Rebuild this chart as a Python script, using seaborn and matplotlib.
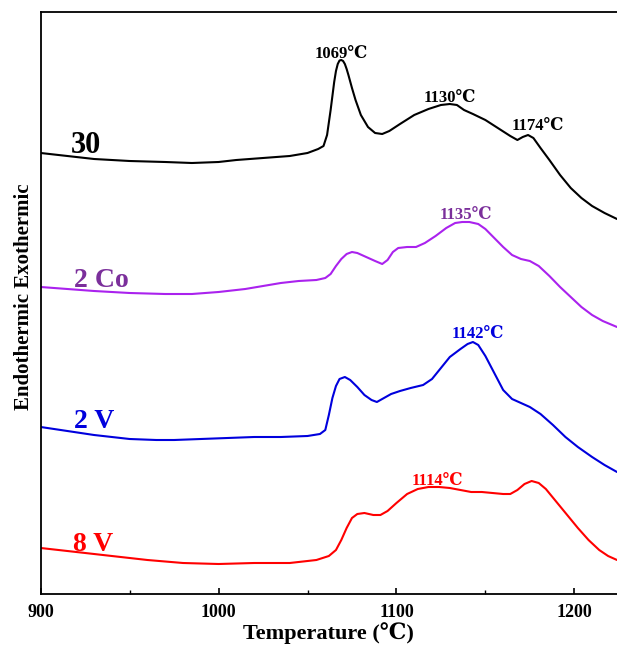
import numpy as np
import pandas as pd
import matplotlib
matplotlib.use("Agg")
import matplotlib.pyplot as plt
import seaborn as sns
from matplotlib.ticker import MultipleLocator

# ---- data (temperature in degC, signal read as pixel row of the curve) ----
t_30 = [900, 915, 930, 950, 970, 985, 1000, 1010, 1025, 1040, 1050, 1056, 1059, 1061, 1063, 1065,
        1066, 1067, 1068, 1069, 1070, 1071, 1072, 1073, 1075, 1077, 1080, 1084, 1088, 1092, 1096,
        1102, 1110, 1118, 1125, 1130, 1134, 1138, 1143, 1150, 1157, 1164, 1168, 1171, 1174, 1177,
        1181, 1186, 1192, 1198, 1204, 1210, 1217, 1224]
y_30_px = [153, 156, 159, 161, 162, 163, 162, 160, 158, 156, 153, 149, 146, 135, 110, 82,
           71, 64, 60.5, 60, 61, 64, 69, 75, 88, 100, 115, 127, 133, 134, 131,
           124, 115, 109, 105, 104, 105, 110, 114, 120, 128, 136, 140, 137, 135, 138,
           148, 160, 175, 188, 198, 206, 213, 219]

t_co = [900, 915, 930, 950, 970, 985, 1000, 1015, 1025, 1035, 1045, 1055, 1060, 1063, 1066, 1069,
        1072, 1075, 1078, 1083, 1088, 1092, 1095, 1098, 1101, 1106, 1111, 1116, 1122, 1128, 1133,
        1137, 1141, 1146, 1150, 1155, 1160, 1165, 1170, 1175, 1180, 1186, 1192, 1198, 1204, 1210,
        1216, 1224]
y_co_px = [287, 289, 291, 293, 294, 294, 292, 289, 286, 283, 281, 280, 278, 274, 266, 259,
           254, 252, 253, 257, 261, 264, 260, 252, 248, 247, 247, 243, 236, 228, 223,
           222, 222, 224, 229, 238, 247, 255, 259, 261, 266, 276, 287, 297, 307, 315,
           321, 327]

t_2v = [900, 915, 930, 950, 965, 975, 990, 1005, 1020, 1035, 1050, 1057, 1060, 1062, 1064, 1066,
        1068, 1071, 1074, 1078, 1082, 1086, 1089, 1093, 1097, 1102, 1108, 1115, 1120, 1125, 1130,
        1136, 1140, 1143, 1146, 1150, 1155, 1160, 1165, 1170, 1175, 1181, 1188, 1195, 1202, 1210,
        1217, 1224]
y_2v_px = [427, 431, 435, 439, 440, 440, 439, 438, 437, 437, 436, 434, 430, 415, 398, 386,
           379, 377, 380, 387, 395, 400, 402, 398, 394, 391, 388, 385, 379, 368, 357,
           349, 344, 342, 345, 356, 373, 390, 399, 403, 407, 414, 425, 437, 447, 457,
           465, 472]

t_8v = [900, 920, 940, 960, 980, 1000, 1020, 1040, 1055, 1062, 1066, 1069, 1072, 1075, 1078, 1082,
        1087, 1091, 1095, 1100, 1106, 1112, 1118, 1124, 1130, 1136, 1142, 1148, 1154, 1160, 1164,
        1168, 1172, 1176, 1180, 1184, 1190, 1196, 1202, 1208, 1214, 1219, 1224]
y_8v_px = [548, 552, 556, 560, 563, 564, 563, 563, 560, 556, 550, 540, 528, 518, 514, 513,
           515, 515, 511, 503, 494, 489, 487, 487, 488, 490, 492, 492, 493, 494, 494,
           490, 484, 481, 483, 489, 502, 515, 528, 540, 550, 556, 560]

BASE = 594
series_names = ["30", "2 Co", "2 V", "8 V"]
series_t = [t_30, t_co, t_2v, t_8v]
series_y = [[BASE - v for v in y_30_px], [BASE - v for v in y_co_px],
            [BASE - v for v in y_2v_px], [BASE - v for v in y_8v_px]]
line_colors = ["#000000", "#aa22ee", "#0000dd", "#ff0000"]
text_colors = ["#000000", "#7b2f9b", "#0000dd", "#ff0000"]

# series name labels (x, y baseline, size)
name_x = [917, 919, 919, 918]
name_y = [441, 307, 166, 43]
name_size = [22, 20, 20, 20]

# peak annotations
peak_text = ["1069℃", "1130℃", "1174℃", "1135℃", "1142℃", "1114℃"]
peak_x = [1069, 1129.8, 1179.6, 1138.8, 1145.6, 1123]
peak_y = [536, 492, 464, 375, 256, 109]
peak_col = ["#000000", "#000000", "#000000", "#7b2f9b", "#0000dd", "#ff0000"]

sns.set_style("white")
plt.rcParams["font.family"] = ["Liberation Serif", "DejaVu Serif"]
plt.rcParams["font.weight"] = "bold"
plt.rcParams["text.color"] = "black"
plt.rcParams["axes.labelcolor"] = "black"
plt.rcParams["xtick.color"] = "black"
plt.rcParams["xtick.labelcolor"] = "black"

fig = plt.figure(figsize=(6.17, 6.46), dpi=100)
ax = fig.add_axes([40.7 / 617, 52 / 646, 1 - 40.7 / 617, (594 - 12) / 646])

frames = []
for name, t, y in zip(series_names, series_t, series_y):
    frames.append(pd.DataFrame({"T": t, "signal": y, "sample": name}))
df = pd.concat(frames, ignore_index=True)

sns.lineplot(data=df, x="T", y="signal", hue="sample", palette=dict(zip(series_names, line_colors)),
             sort=False, estimator=None, linewidth=1.5, legend=False, ax=ax)
for ln in ax.get_lines():
    ln.set_solid_joinstyle("round")
    ln.set_solid_capstyle("round")

for name, x, y, c, s in zip(series_names, name_x, name_y, text_colors, name_size):
    ax.text(x, y, name, color=c, fontsize=s, fontweight="bold", ha="left", va="baseline")

for s, x, y, c in zip(peak_text, peak_x, peak_y, peak_col):
    ax.text(x, y, s, color=c, fontsize=12, fontweight="bold", ha="center", va="baseline")

ax.set_xlim(900, 1224)
ax.set_ylim(0, 582)
ax.set_yticks([])
ax.xaxis.set_major_locator(MultipleLocator(100))
ax.xaxis.set_minor_locator(MultipleLocator(50))
ax.tick_params(axis="x", which="major", direction="in", length=4, width=1.2, labelsize=13, pad=7,
               bottom=True, top=False, colors="black")
ax.tick_params(axis="x", which="minor", direction="in", length=3, width=1.0, bottom=True, top=False,
               colors="black")
for lab in ax.get_xticklabels():
    lab.set_fontweight("bold")
ax.set_xlabel("Temperature (℃)", fontsize=16, fontweight="bold", labelpad=1, color="black")
ax.set_ylabel("")
ax.spines["right"].set_visible(False)
for sp in ["left", "bottom", "top"]:
    ax.spines[sp].set_linewidth(1.3)
    ax.spines[sp].set_color("black")

fig.text(24 / 617, 1 - 297 / 646, "Endothermic Exothermic", rotation=90, fontsize=15,
         fontweight="bold", ha="center", va="center", color="black")

fig.savefig("out.png", dpi=100)
